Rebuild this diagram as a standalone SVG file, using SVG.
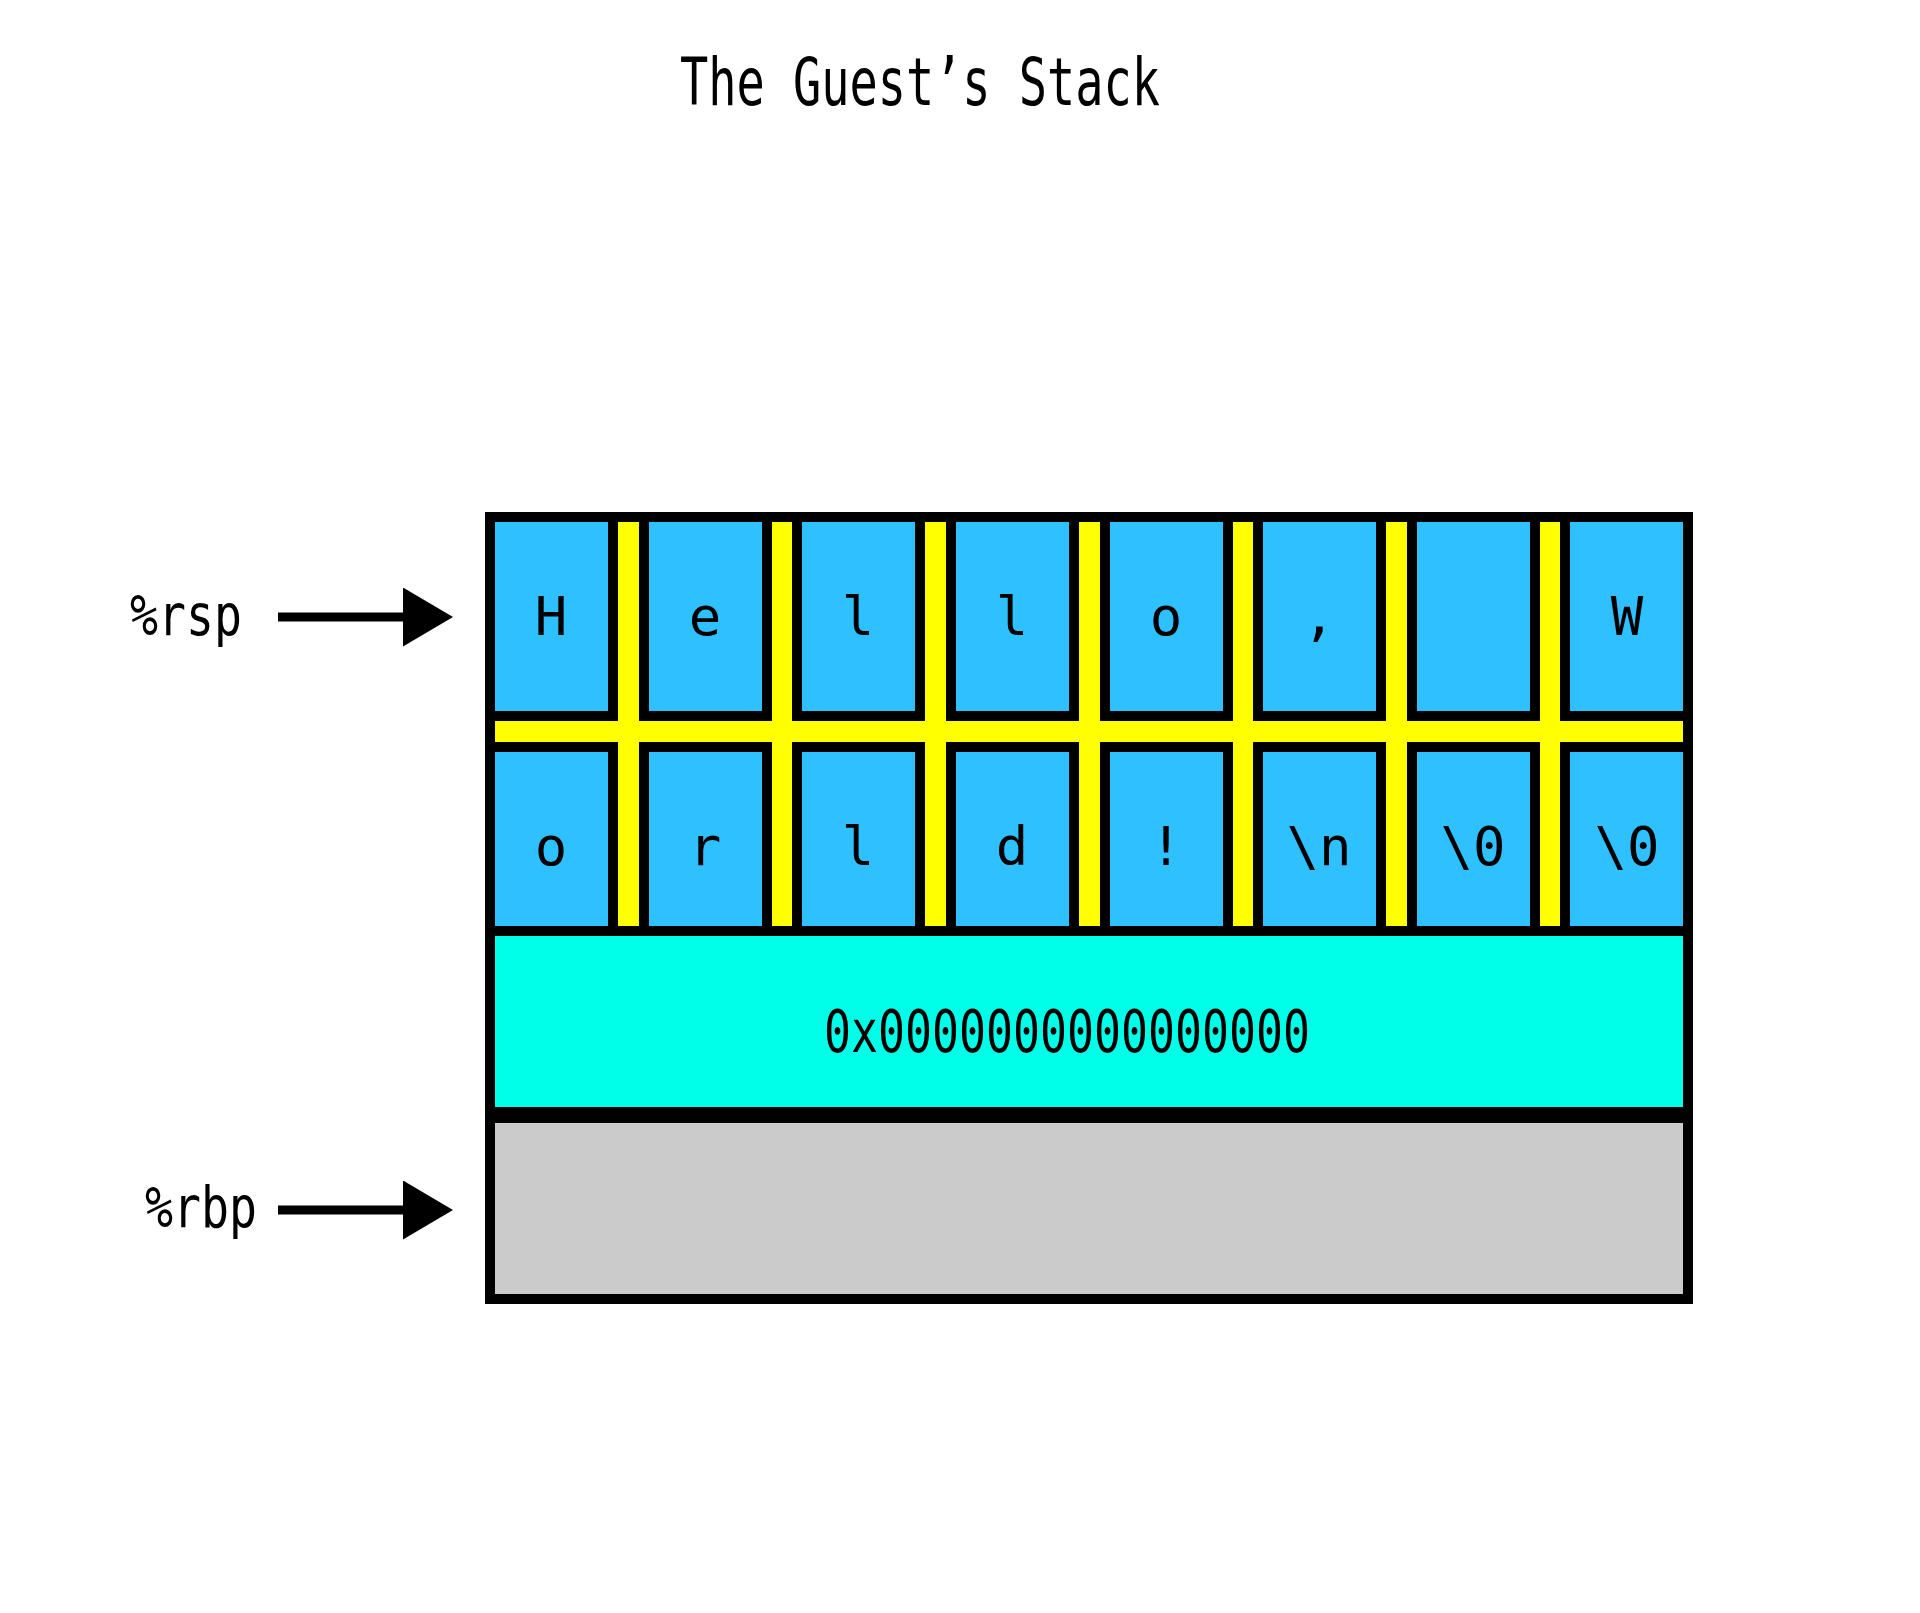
<svg xmlns="http://www.w3.org/2000/svg" width="1920" height="1613" viewBox="0 0 1920 1613">
<style>
text{font-family:"DejaVu Sans Mono","Liberation Mono",monospace;fill:#000}
.c{fill:#2ec0ff;stroke:#000;stroke-width:10}
.ch{font-size:54px;text-anchor:middle}
</style>
<defs>
<marker id="ah" viewBox="0 0 50 59" refX="0" refY="29.5" markerWidth="50" markerHeight="59" markerUnits="userSpaceOnUse" orient="auto"><path d="M0,0 L50,29.5 L0,59 Z" fill="#000"/></marker>
</defs>
<rect width="1920" height="1613" fill="#fff"/>
<text x="680" y="105" font-size="66" textLength="480" lengthAdjust="spacingAndGlyphs">The Guest’s Stack</text>
<g id="grid">
<rect x="485" y="512" width="1208" height="424" fill="#ffff00"/>
<g id="row1">
<rect class="c" x="490" y="517" width="123" height="199"/>
<rect class="c" x="644" y="517" width="123" height="199"/>
<rect class="c" x="797" y="517" width="123" height="199"/>
<rect class="c" x="951" y="517" width="123" height="199"/>
<rect class="c" x="1105" y="517" width="123" height="199"/>
<rect class="c" x="1258" y="517" width="123" height="199"/>
<rect class="c" x="1412" y="517" width="123" height="199"/>
<rect class="c" x="1565" y="517" width="123" height="199"/>
<text class="ch" x="551" y="635">H</text>
<text class="ch" x="705" y="635">e</text>
<text class="ch" x="858" y="635">l</text>
<text class="ch" x="1012" y="635">l</text>
<text class="ch" x="1166" y="635">o</text>
<text class="ch" x="1319" y="635">,</text>
<text class="ch" x="1627" y="635">W</text>
</g>
<g id="row2">
<rect class="c" x="490" y="747" width="123" height="184"/>
<rect class="c" x="644" y="747" width="123" height="184"/>
<rect class="c" x="797" y="747" width="123" height="184"/>
<rect class="c" x="951" y="747" width="123" height="184"/>
<rect class="c" x="1105" y="747" width="123" height="184"/>
<rect class="c" x="1258" y="747" width="123" height="184"/>
<rect class="c" x="1412" y="747" width="123" height="184"/>
<rect class="c" x="1565" y="747" width="123" height="184"/>
<text class="ch" x="551" y="865">o</text>
<text class="ch" x="705" y="865">r</text>
<text class="ch" x="858" y="865">l</text>
<text class="ch" x="1012" y="865">d</text>
<text class="ch" x="1166" y="865">!</text>
<text class="ch" x="1319" y="865">\n</text>
<text class="ch" x="1473" y="865">\0</text>
<text class="ch" x="1627" y="865">\0</text>
</g>
</g>
<g id="ret">
<rect x="490" y="931" width="1198" height="181" fill="#00ffe8" stroke="#000" stroke-width="10"/>
<text x="824" y="1052" font-size="58" textLength="486" lengthAdjust="spacingAndGlyphs">0x0000000000000000</text>
</g>
<g id="base">
<rect x="490" y="1118" width="1198" height="181" fill="#cbcbcb" stroke="#000" stroke-width="10"/>
</g>
<rect x="490" y="517" width="1198" height="782" fill="none" stroke="#000" stroke-width="10"/>
<g id="rsp"><text x="130" y="635" font-size="57" textLength="112" lengthAdjust="spacingAndGlyphs">%rsp</text></g>
<g id="rbp"><text x="145" y="1227" font-size="57" textLength="112" lengthAdjust="spacingAndGlyphs">%rbp</text></g>
<g id="connectors" stroke="#000" stroke-width="9">
<line x1="278" y1="617" x2="403" y2="617" marker-end="url(#ah)"/>
<line x1="278" y1="1210" x2="403" y2="1210" marker-end="url(#ah)"/>
</g>
</svg>
